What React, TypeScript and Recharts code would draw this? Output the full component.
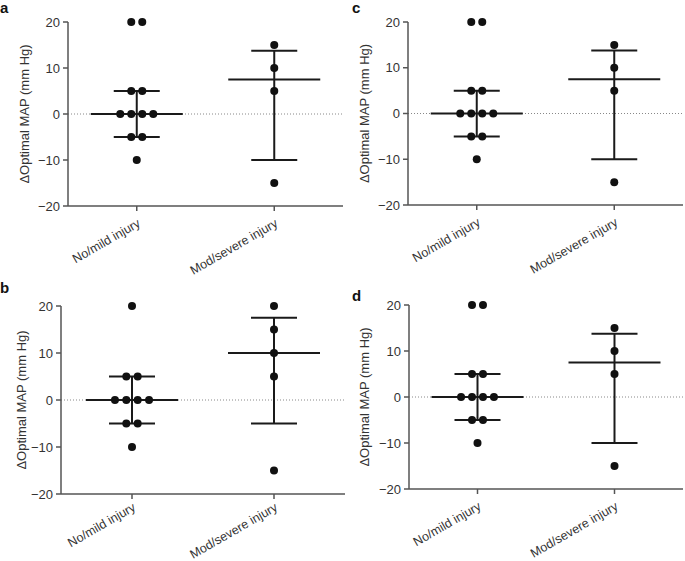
import React from 'react';
import { ScatterChart, Scatter, XAxis, YAxis, ReferenceLine, ErrorBar } from 'recharts';

// group names and the shared y ticks
const CATEGORIES = ['No/mild injury', 'Mod/severe injury'];
const Y_TICKS = [-20, -10, 0, 10, 20];

// panels a, c and d show the same values
const MILD_ACD = [20, 20, 5, 5, 0, 0, 0, 0, -5, -5, -10];
const MILD_ACD_JITTER = [-0.04, 0.04, -0.04, 0.04, -0.12, -0.04, 0.04, 0.12, -0.04, 0.04, 0];
const SEVERE_ACD = [15, 10, 5, -15];
const SEVERE_ACD_JITTER = [0, 0, 0, 0];
const MEDIAN_ACD = [0, 7.5];
const Q1_ACD = [-5, -10];
const Q3_ACD = [5, 13.75];

// panel b
const MILD_B = [20, 5, 5, 0, 0, 0, 0, -5, -5, -10];
const MILD_B_JITTER = [0, -0.04, 0.04, -0.12, -0.04, 0.04, 0.12, -0.04, 0.04, 0];
const SEVERE_B = [20, 15, 10, 5, -15];
const SEVERE_B_JITTER = [0, 0, 0, 0, 0];
const MEDIAN_B = [0, 10];
const Q1_B = [-5, -5];
const Q3_B = [5, 17.5];

const FONT = '"Liberation Sans", Arial, Helvetica, sans-serif';
const AXIS_COLOR = '#555';
const TEXT_COLOR = '#333';

const toPoints = (values: number[], jitter: number[], group: number) =>
  values.map((v, i) => ({ x: group + jitter[i], y: v }));

const toSummary = (median: number[], q1: number[], q3: number[]) =>
  median.map((m, i) => ({ x: i + 1, y: m, err: [m - q1[i], q3[i] - m] }));

const minus = (v: number) => String(v).replace('-', '\u2212');

function YTitle({ viewBox, cx }: any) {
  const y = viewBox.y + viewBox.height / 2;
  return (
    <text
      x={cx}
      y={y}
      transform={`rotate(-90, ${cx}, ${y})`}
      textAnchor="middle"
      dominantBaseline="central"
      fontSize={13}
      fill={TEXT_COLOR}
    >
      ΔOptimal MAP (mm Hg)
    </text>
  );
}

const Dot = (p: any) => <circle cx={p.cx} cy={p.cy} r={4} fill="#111" />;
const MedianLine = (p: any) => (
  <line x1={p.cx - 46} x2={p.cx + 46} y1={p.cy} y2={p.cy} stroke="#1a1a1a" strokeWidth={2} />
);

function Panel({ letter, left, top, width, height, yAxisW, plotTop, bottom, right, titleX, xTickGap, mild, severe, summary }: any) {
  return (
    <div style={{ position: 'absolute', left, top, width, height }}>
      <ScatterChart
        width={width}
        height={height}
        margin={{ top: plotTop, right, bottom: 0, left: 0 }}
        style={{ fontFamily: FONT }}
      >
        <XAxis
          type="number"
          dataKey="x"
          domain={[0.5, 2.5]}
          ticks={[1, 2]}
          interval={0}
          allowDataOverflow
          height={bottom}
          tickFormatter={(v: number) => CATEGORIES[v - 1]}
          angle={-30}
          textAnchor="end"
          tickSize={5}
          tickMargin={xTickGap}
          tick={{ fill: TEXT_COLOR, fontSize: 12.5 }}
          axisLine={{ stroke: AXIS_COLOR, strokeWidth: 1.5 }}
          tickLine={{ stroke: AXIS_COLOR, strokeWidth: 1.5 }}
        />
        <YAxis
          type="number"
          dataKey="y"
          domain={[-20, 20]}
          ticks={Y_TICKS}
          interval={0}
          width={yAxisW}
          tickFormatter={minus}
          tickSize={5}
          tickMargin={3}
          tick={{ fill: TEXT_COLOR, fontSize: 13 }}
          axisLine={{ stroke: AXIS_COLOR, strokeWidth: 1.5 }}
          tickLine={{ stroke: AXIS_COLOR, strokeWidth: 1.5 }}
          label={<YTitle cx={titleX} />}
        />
        <ReferenceLine y={0} stroke="#888" strokeDasharray="1 2" />
        <Scatter data={summary} shape={MedianLine} isAnimationActive={false}>
          <ErrorBar dataKey="err" direction="y" width={23} stroke="#1a1a1a" strokeWidth={2} />
        </Scatter>
        <Scatter data={mild} shape={Dot} isAnimationActive={false} />
        <Scatter data={severe} shape={Dot} isAnimationActive={false} />
      </ScatterChart>
      <div
        style={{
          position: 'absolute',
          left: letter.x,
          top: letter.y,
          fontFamily: FONT,
          fontWeight: 'bold',
          fontSize: 15,
          lineHeight: '15px',
          color: '#111',
        }}
      >
        {letter.text}
      </div>
    </div>
  );
}

export default function App() {
  const mildACD = toPoints(MILD_ACD, MILD_ACD_JITTER, 1);
  const severeACD = toPoints(SEVERE_ACD, SEVERE_ACD_JITTER, 2);
  const summaryACD = toSummary(MEDIAN_ACD, Q1_ACD, Q3_ACD);
  const mildB = toPoints(MILD_B, MILD_B_JITTER, 1);
  const severeB = toPoints(SEVERE_B, SEVERE_B_JITTER, 2);
  const summaryB = toSummary(MEDIAN_B, Q1_B, Q3_B);

  return (
    <div style={{ position: 'absolute', left: 0, top: 0, width: 685, height: 561, background: '#fff' }}>
      <Panel
        letter={{ text: 'a', x: 0, y: 0 }}
        left={0} top={0} width={345} height={280}
        yAxisW={68} plotTop={22} bottom={74} right={2} titleX={24} xTickGap={7}
        mild={mildACD} severe={severeACD} summary={summaryACD}
      />
      <Panel
        letter={{ text: 'c', x: 12, y: 0 }}
        left={340} top={0} width={345} height={280}
        yAxisW={68} plotTop={22} bottom={75} right={2} titleX={24} xTickGap={7}
        mild={mildACD} severe={severeACD} summary={summaryACD}
      />
      <Panel
        letter={{ text: 'b', x: 0, y: 0 }}
        left={0} top={280} width={345} height={281}
        yAxisW={61} plotTop={26} bottom={67} right={0} titleX={21} xTickGap={3}
        mild={mildB} severe={severeB} summary={summaryB}
      />
      <Panel
        letter={{ text: 'd', x: 12, y: 8 }}
        left={340} top={280} width={345} height={281}
        yAxisW={69} plotTop={25} bottom={72} right={2} titleX={24} xTickGap={7}
        mild={mildACD} severe={severeACD} summary={summaryACD}
      />
    </div>
  );
}
